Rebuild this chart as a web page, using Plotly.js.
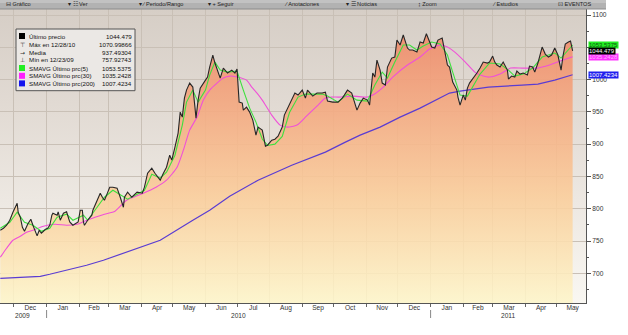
<!DOCTYPE html>
<html>
<head>
<meta charset="utf-8">
<script src="https://cdn.plot.ly/plotly-3.0.1.min.js"></script>
<style>
html,body{margin:0;padding:0;background:#ffffff;}
#wrap{position:relative;width:628px;height:335px;overflow:hidden;}
#bg{position:absolute;left:0;top:9px;width:586px;height:294px;
background:linear-gradient(to bottom,#d6cec6 0%,#e2dbd4 35%,#ede8e2 65%,#f9f7f2 100%);}
#chart{position:absolute;left:0;top:0;width:628px;height:335px;}
</style>
</head>
<body>
<div id="wrap"><div id="bg"></div><div id="chart"></div></div>
<script>
// ---- data ----
const priceDates = [
"2009-11-18","2009-11-21","2009-11-24","2009-11-27","2009-11-30","2009-12-04","2009-12-05","2009-12-07","2009-12-09","2009-12-11",
"2009-12-14","2009-12-17","2009-12-19","2009-12-21","2009-12-23","2009-12-25","2009-12-27","2009-12-29","2009-12-31","2010-01-02",
"2010-01-04","2010-01-06","2010-01-07","2010-01-11","2010-01-12","2010-01-14","2010-01-17","2010-01-20","2010-01-23","2010-01-26",
"2010-01-31","2010-02-02","2010-02-04","2010-02-05","2010-02-06","2010-02-09","2010-02-13","2010-02-14","2010-02-18","2010-02-21",
"2010-02-23","2010-02-25","2010-02-27","2010-03-02","2010-03-05","2010-03-09","2010-03-12","2010-03-15","2010-03-16","2010-03-19",
"2010-03-23","2010-03-28","2010-04-02","2010-04-04","2010-04-07","2010-04-11","2010-04-14","2010-04-17","2010-04-19","2010-04-22",
"2010-04-25","2010-04-28","2010-04-30","2010-05-03","2010-05-06","2010-05-08","2010-05-10","2010-05-12","2010-05-14","2010-05-17",
"2010-05-20","2010-05-22","2010-05-23","2010-05-25","2010-05-27","2010-06-01","2010-06-03","2010-06-05","2010-06-08","2010-06-10",
"2010-06-12","2010-06-15","2010-06-18","2010-06-20","2010-06-22","2010-06-26","2010-06-29","2010-07-01","2010-07-03","2010-07-06",
"2010-07-07","2010-07-10","2010-07-13","2010-07-16","2010-07-19","2010-07-21","2010-07-25","2010-07-28","2010-07-30","2010-08-03",
"2010-08-06","2010-08-09","2010-08-13","2010-08-15","2010-08-18","2010-08-20","2010-08-25","2010-08-28","2010-09-01","2010-09-04",
"2010-09-06","2010-09-11","2010-09-15","2010-09-20","2010-09-23","2010-09-25","2010-09-30","2010-10-05","2010-10-09","2010-10-11",
"2010-10-14","2010-10-18","2010-10-21","2010-10-23","2010-10-26","2010-10-29","2010-11-02","2010-11-04","2010-11-07","2010-11-09",
"2010-11-11","2010-11-14","2010-11-16","2010-11-19","2010-11-21","2010-11-25","2010-11-28","2010-11-30","2010-12-03","2010-12-06",
"2010-12-10","2010-12-12","2010-12-15","2010-12-19","2010-12-22","2010-12-25","2010-12-28","2011-01-02","2011-01-05","2011-01-08",
"2011-01-12","2011-01-15","2011-01-17","2011-01-19","2011-01-22","2011-01-26","2011-01-27","2011-01-29","2011-02-01","2011-02-03",
"2011-02-05","2011-02-07","2011-02-10","2011-02-14","2011-02-17","2011-02-20","2011-02-24","2011-02-26","2011-03-01","2011-03-03",
"2011-03-05","2011-03-08","2011-03-11","2011-03-15","2011-03-16","2011-03-19","2011-03-22","2011-03-24","2011-03-27","2011-03-30",
"2011-04-03","2011-04-05","2011-04-08","2011-04-10","2011-04-13","2011-04-17","2011-04-20","2011-04-23","2011-04-26","2011-04-29",
"2011-05-02","2011-05-05","2011-05-07","2011-05-09","2011-05-12","2011-05-14","2011-05-16"];
const price = [
766.7,769.8,774.4,782.2,794.6,808.5,794.6,786.8,771.3,765.1,
776.0,783.7,774.4,765.1,757.93,766.7,762.1,765.1,768.3,769.8,
774.4,790.0,793.1,790.0,795.2,782.2,793.1,795.2,779.6,774.4,
779.6,797.7,797.7,779.6,774.4,782.2,790.0,797.7,813.2,824.0,
817.8,813.2,821.0,833.3,833.3,831.8,817.8,802.3,817.8,825.6,
817.8,825.6,824.0,833.3,855.0,862.8,855.0,848.8,844.2,855.0,
864.3,882.9,875.2,895.3,917.1,949.6,941.9,971.3,983.7,994.6,
988.4,957.4,940.3,968.2,986.8,999.2,1003.9,1019.4,1038.0,1025.6,
1014.7,1002.3,1017.8,1014.7,1010.1,1014.7,1010.1,1016.3,965.1,963.6,
952.7,957.4,949.6,937.2,913.9,926.4,921.7,896.9,898.4,906.2,
907.7,912.4,926.4,945.0,955.8,963.6,979.1,976.0,983.7,971.3,
983.7,974.4,979.1,979.1,980.6,966.7,965.1,965.1,971.3,976.0,
983.7,979.1,965.1,952.7,963.6,971.3,968.2,960.5,1010.1,1003.9,
1030.2,1014.7,994.6,991.5,1019.4,1033.3,1034.9,1061.2,1053.5,1069.0,
1048.8,1045.7,1045.7,1042.6,1058.1,1056.6,1070.99866,1050.4,1048.8,1061.2,
1064.3,1038.0,1022.5,1019.4,996.1,983.7,972.9,960.5,976.0,968.2,
986.8,994.6,1000.8,1010.1,1017.8,1027.1,1025.6,1027.1,1036.4,1027.1,
1022.5,1019.4,1027.1,1014.7,1000.8,1005.4,1003.9,1013.2,1008.5,1010.1,
1007.0,1020.9,1019.4,1011.6,1025.6,1050.4,1039.5,1034.9,1038.0,1048.8,
1038.0,1014.7,1038.0,1055.0,1058.1,1059.7,1044.479];

const sma5Dates = [
"2009-11-18","2009-11-27","2009-12-04","2009-12-11","2009-12-19","2009-12-27","2010-01-04","2010-01-11","2010-01-20","2010-01-26",
"2010-02-05","2010-02-09","2010-02-18","2010-02-25","2010-03-05","2010-03-12","2010-03-19","2010-03-28","2010-04-04","2010-04-11",
"2010-04-19","2010-04-25","2010-05-03","2010-05-10","2010-05-14","2010-05-20","2010-05-25","2010-06-01","2010-06-05","2010-06-10",
"2010-06-15","2010-06-22","2010-07-01","2010-07-07","2010-07-13","2010-07-19","2010-07-25","2010-07-30","2010-08-06","2010-08-13",
"2010-08-20","2010-08-28","2010-09-04","2010-09-11","2010-09-20","2010-09-25","2010-10-05","2010-10-14","2010-10-23","2010-11-02",
"2010-11-09","2010-11-16","2010-11-21","2010-11-28","2010-12-06","2010-12-12","2010-12-19","2010-12-25","2011-01-02","2011-01-10",
"2011-01-17","2011-01-22","2011-01-29","2011-02-05","2011-02-10","2011-02-17","2011-02-26","2011-03-08","2011-03-16","2011-03-22",
"2011-03-30","2011-04-08","2011-04-17","2011-04-23","2011-04-29","2011-05-05","2011-05-12","2011-05-16"];
const sma5 = [
769.8,779.1,794.6,779.1,774.4,765.1,769.8,786.8,791.5,782.2,
790.0,782.2,802.3,817.8,828.6,821.0,814.8,822.5,828.6,853.4,
847.3,856.6,882.9,929.5,965.1,983.7,965.1,983.7,1007.0,1027.1,
1014.7,1011.6,1013.2,983.7,955.8,934.1,908.0,898.0,900.0,912.0,
949.6,972.9,977.5,977.5,977.5,974.4,965.1,977.5,968.2,966.7,
991.5,1011.6,1002.3,1027.1,1053.5,1053.5,1045.7,1051.9,1058.1,1055.0,
1038.0,1011.6,976.0,974.4,988.4,1008.5,1025.6,1024.1,1014.7,1005.4,
1008.5,1017.8,1034.9,1038.0,1041.1,1033.3,1045.7,1053.5375];

const sma30Dates = [
"2009-11-18","2009-11-24","2009-11-30","2009-12-07","2009-12-13","2009-12-19","2009-12-29","2010-01-09","2010-01-20","2010-01-30",
"2010-02-06","2010-02-16","2010-02-25","2010-03-07","2010-03-18","2010-04-03","2010-04-15","2010-04-25","2010-05-05","2010-05-11",
"2010-05-17","2010-05-24","2010-05-30","2010-06-05","2010-06-12","2010-06-18","2010-06-24","2010-07-01","2010-07-10","2010-07-15",
"2010-07-20","2010-07-25","2010-08-03","2010-08-11","2010-08-18","2010-08-27","2010-09-05","2010-09-16","2010-09-23","2010-09-29",
"2010-10-06","2010-10-19","2010-11-02","2010-11-07","2010-11-17","2010-11-26","2010-12-10","2010-12-22","2010-12-31","2011-01-10",
"2011-01-17","2011-01-24","2011-02-03","2011-02-12","2011-02-20","2011-02-26","2011-03-08","2011-03-18","2011-03-29","2011-04-12",
"2011-04-24","2011-05-07","2011-05-16"];
const sma30 = [
724.8,738.8,751.2,757.4,763.6,766.7,772.9,776.0,774.4,776.0,
780.6,786.8,791.5,796.1,813.2,824.0,833.3,844.2,864.3,890.7,
921.7,941.9,968.2,983.7,994.6,1002.3,1005.4,1003.9,999.2,988.4,
979.0,968.2,945.0,929.5,926.4,929.5,943.4,960.5,971.3,972.9,
972.9,974.4,972.9,976.0,988.4,1003.9,1022.5,1034.9,1047.3,1053.5,
1050.4,1042.6,1027.1,1011.6,1005.4,1003.9,1008.5,1017.8,1017.8,1017.8,
1022.5,1030.2,1035.2428];

const sma200Dates = [
"2009-11-18","2009-12-07","2009-12-26","2010-01-04","2010-01-20","2010-02-08","2010-02-24","2010-03-12","2010-03-31","2010-04-19",
"2010-05-20","2010-06-05","2010-06-24","2010-07-21","2010-08-22","2010-09-23","2010-10-12","2010-10-26","2010-11-14","2010-12-03",
"2010-12-22","2011-01-10","2011-01-19","2011-01-29","2011-02-25","2011-03-29","2011-04-13","2011-04-29","2011-05-16"];
const sma200 = [
692.2,693.8,695.3,698.5,704.7,712.4,720.2,729.5,740.3,751.2,
782.2,797.7,819.4,844.2,867.4,887.6,903.1,914.0,926.4,941.9,
955.8,971.3,979.1,982.2,988.4,991.5,993.0,999.2,1007.4234];

const legendLabels = ["Último precio","Máx en 12/28/10","Media","Mín en 12/23/09",
  "SMAVG Último prc(5)","SMAVG Último prc(30)","SMAVG Último prc(200)"];
const legendValues = ["1044.479","1070.99866","937.49304","757.92743","1053.5375","1035.2428","1007.4234"];
const yearLabels = ["2009","2010","2011"];
const yearCenters = ["2009-12-09","2010-07-02","2011-03-16"];
const yearBreaks = ["2010-01-01","2011-01-01"];
const toolbarItems = ["⊟ Gráfico","▾ ☷ Ver","▾ ⁄ Periodo/Rango","▾ + Seguir","⁄ Anotaciones","▾ ☰ Noticias","↨ Zoom","⁄ Estudios","⊡ EVENTOS"];
const toolbarPos = [4,66,137,206,282,344,416,490,556];

// ---- geometry helpers (pixels -> paper) ----
const PW = 586, PH = 294, PT = 9;
const px = v => v / PW;
const py = v => (PT + PH - v) / PH;

const FONT = "Liberation Sans, Arial, sans-serif";

const traces = [
  {x: priceDates, y: price, type: 'scatter', mode: 'lines', line: {width: 0, color: 'rgba(0,0,0,0)'},
   fill: 'tozeroy',
   fillgradient: {type: 'vertical', start: 654, stop: 1072,
     colorscale: [[0, 'rgba(253,245,202,0.9)'], [0.4, 'rgba(250,205,155,0.9)'], [1, 'rgba(239,140,108,0.92)']]},
   hoverinfo: 'skip'},
  {x: sma200Dates, y: sma200, type: 'scatter', mode: 'lines', line: {color: '#5a3cd2', width: 1.2}, hoverinfo: 'skip'},
  {x: sma30Dates, y: sma30, type: 'scatter', mode: 'lines', line: {color: '#f050d8', width: 1.1, shape: 'spline', smoothing: 0.6}, hoverinfo: 'skip'},
  {x: sma5Dates, y: sma5, type: 'scatter', mode: 'lines', line: {color: '#3ee03e', width: 1.1}, hoverinfo: 'skip'},
  {x: priceDates, y: price, type: 'scatter', mode: 'lines', line: {color: '#262626', width: 1.1}, hoverinfo: 'skip'}
];

const shapes = [];
const annotations = [];

// toolbar
shapes.push({type:'rect', xref:'paper', yref:'paper', x0:0, x1:px(606), y0:py(9), y1:py(0), fillcolor:'#b2b2b2', line:{width:0}, layer:'above'});
shapes.push({type:'rect', xref:'paper', yref:'paper', x0:0, x1:px(606), y0:py(3), y1:py(0), fillcolor:'#c2c2c2', line:{width:0}, layer:'above'});
shapes.push({type:'line', xref:'paper', yref:'paper', x0:0, x1:px(606), y0:py(9), y1:py(9), line:{color:'#8c8c8c', width:1}, layer:'above'});
toolbarItems.forEach((t, i) => {
  annotations.push({xref:'paper', yref:'paper', x:px(toolbarPos[i]), y:py(4.5), xanchor:'left', yanchor:'middle',
    text:t, showarrow:false, font:{family:FONT, size:5.6, color:'#222'}});
});

// legend box
shapes.push({type:'rect', xref:'paper', yref:'paper', x0:px(16), x1:px(135), y0:py(90.7), y1:py(29),
  fillcolor:'#ebe8e5', line:{color:'#555', width:1}, layer:'above'});
const rowY = [36, 44, 52, 60, 68, 75.8, 83.4];
const squareColors = {0:'#000000', 4:'#22ee22', 5:'#ff22ff', 6:'#1414ee'};
const icons = {1:'⊤', 2:'→', 3:'⊥'};
legendLabels.forEach((lab, i) => {
  const c = rowY[i];
  if (squareColors[i]) {
    shapes.push({type:'rect', xref:'paper', yref:'paper', x0:px(19), x1:px(25), y0:py(c+3), y1:py(c-3),
      fillcolor:squareColors[i], line:{width:0}, layer:'above'});
  } else {
    annotations.push({xref:'paper', yref:'paper', x:px(22), y:py(c), xanchor:'center', yanchor:'middle',
      text:icons[i], showarrow:false, font:{family:'DejaVu Sans', size:6, color:'#333'}});
  }
  annotations.push({xref:'paper', yref:'paper', x:px(26.5), y:py(c), xanchor:'left', yanchor:'middle',
    text:lab, showarrow:false, font:{family:FONT, size:6.2, color:'#111'}});
  annotations.push({xref:'paper', yref:'paper', x:px(133.5), y:py(c), xanchor:'right', yanchor:'middle',
    text:legendValues[i], showarrow:false, font:{family:FONT, size:6.2, color:'#111'}});
});

// right-side value tags
const tagDefs = [
  {v: sma5[sma5.length-1], t: legendValues[4], bg:'#22ee22', fc:'#115511'},
  {v: sma30[sma30.length-1], t: legendValues[5], bg:'#ff33ff', fc:'#ffb0ff'},
  {v: price[price.length-1], t: legendValues[0], bg:'#000000', fc:'#ffffff'},
  {v: sma200[sma200.length-1], t: legendValues[6], bg:'#2020ee', fc:'#ffffff'}
];
tagDefs.forEach(d => {
  annotations.push({xref:'paper', yref:'y', x:px(588), y:d.v, xanchor:'left', yanchor:'middle',
    text:d.t, showarrow:false, bgcolor:d.bg, borderpad:0, font:{family:FONT, size:6, color:d.fc}});
});

// year labels and separators
yearLabels.forEach((y, i) => {
  annotations.push({xref:'x', yref:'paper', x:yearCenters[i], y:py(315), xanchor:'center', yanchor:'middle',
    text:y, showarrow:false, font:{family:FONT, size:6.6, color:'#333'}});
});
yearBreaks.forEach(d => {
  shapes.push({type:'line', xref:'x', yref:'paper', x0:d, x1:d, y0:py(310), y1:py(318), line:{color:'#888', width:1}});
});

const layout = {
  width: 628, height: 335,
  margin: {l: 0, r: 42, t: 9, b: 32, pad: 0},
  paper_bgcolor: 'rgba(0,0,0,0)', plot_bgcolor: 'rgba(0,0,0,0)',
  showlegend: false, hovermode: false,
  font: {family: FONT, size: 6.6, color: '#333'},
  xaxis: {type: 'date', range: ['2009-11-17 17:00', '2011-05-28 17:00'],
    dtick: 'M1', tick0: '2009-11-01', ticklabelmode: 'period', tickformat: '%b',
    ticks: 'outside', ticklen: 3, tickcolor: '#666', tickfont: {family: FONT, size: 6.6, color: '#333'},
    ticklabelstandoff: -5,
    showgrid: true, gridcolor: '#c9c0b6', gridwidth: 1, showline: true, linecolor: '#555', linewidth: 1,
    zeroline: false, fixedrange: true},
  yaxis: {side: 'right', range: [654, 1109.3], dtick: 50, tick0: 0,
    ticks: 'outside', ticklen: 4, tickcolor: '#555', tickfont: {family: FONT, size: 6.6, color: '#333'},
    minor: {dtick: 25, ticks: 'outside', ticklen: 2, tickcolor: '#555', showgrid: false},
    showgrid: true, gridcolor: '#c9c0b6', gridwidth: 1, showline: true, linecolor: '#555', linewidth: 1,
    zeroline: false, fixedrange: true},
  shapes: shapes,
  annotations: annotations
};

Plotly.newPlot('chart', traces, layout, {displayModeBar: false, staticPlot: true});
</script>
</body>
</html>
